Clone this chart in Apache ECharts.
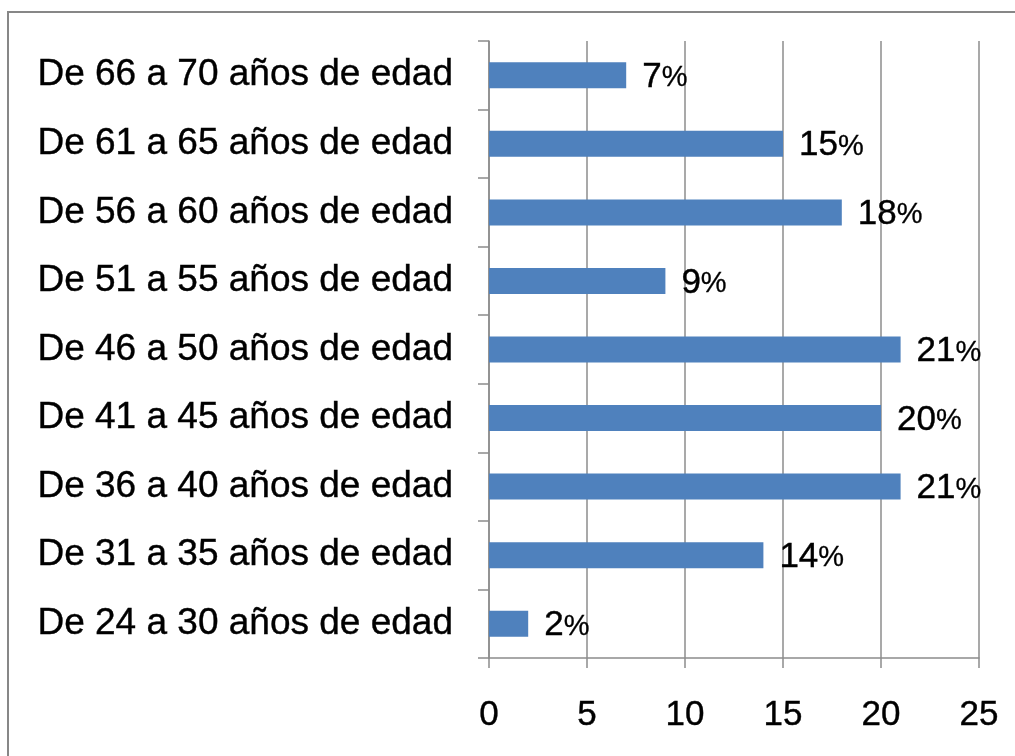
<!DOCTYPE html>
<html>
<head>
<meta charset="utf-8">
<script src="https://cdn.jsdelivr.net/npm/echarts@6/dist/echarts.min.js"></script>
<style>
html,body{margin:0;padding:0;background:#fff;}
#main{width:1015px;height:756px;}
</style>
</head>
<body>
<div id="main"></div>
<script>
const categories = [
  "De 24 a 30 años de edad",
  "De 31 a 35 años de edad",
  "De 36 a 40 años de edad",
  "De 41 a 45 años de edad",
  "De 46 a 50 años de edad",
  "De 51 a 55 años de edad",
  "De 56 a 60 años de edad",
  "De 61 a 65 años de edad",
  "De 66 a 70 años de edad"
];
const values = [2, 14, 21, 20, 21, 9, 18, 15, 7];
const xTicks = [0, 5, 10, 15, 20, 25];

const chart = echarts.init(document.getElementById('main'), null, {renderer: 'canvas'});
const font = 'Liberation Sans, Arial, sans-serif';
chart.setOption({
  animation: false,
  backgroundColor: '#fff',
  graphic: [{
    type: 'rect',
    shape: {x: 8, y: 12, width: 1100, height: 900},
    style: {fill: 'none', stroke: '#878787', lineWidth: 2},
    silent: true
  }],
  grid: {left: 489, right: 36, top: 41, bottom: 98, containLabel: false},
  xAxis: {
    type: 'value',
    min: xTicks[0],
    max: xTicks[xTicks.length - 1],
    interval: 5,
    axisLine: {show: true, lineStyle: {color: '#8c8c8c', width: 1.5}},
    axisTick: {show: true, length: 10, lineStyle: {color: '#8c8c8c', width: 1.5}},
    splitLine: {show: true, lineStyle: {color: '#8c8c8c', width: 1.5}},
    axisLabel: {fontFamily: font, fontSize: 35, color: '#000', margin: 40,
      textBorderColor: '#000', textBorderWidth: 0.4}
  },
  yAxis: {
    type: 'category',
    data: categories,
    axisLine: {show: true, lineStyle: {color: '#8c8c8c', width: 1.5}},
    axisTick: {show: true, length: 11, lineStyle: {color: '#8c8c8c', width: 1.5}},
    axisLabel: {fontFamily: font, fontSize: 37, color: '#000', margin: 36,
      padding: [5, 0, 0, 0],
      textBorderColor: '#000', textBorderWidth: 0.4}
  },
  series: [{
    type: 'bar',
    data: values,
    barWidth: 26,
    itemStyle: {color: '#4F81BD'},
    label: {
      show: true,
      position: 'right',
      distance: 16,
      offset: [0, 2],
      formatter: p => '{n|' + p.value + '}{p|%}',
      rich: {
        n: {fontFamily: font, fontSize: 35, color: '#000', verticalAlign: 'bottom',
          textBorderColor: '#000', textBorderWidth: 0.4},
        p: {fontFamily: font, fontSize: 29, color: '#000', verticalAlign: 'bottom', padding: [0, 0, 2, 0],
          textBorderColor: '#000', textBorderWidth: 0.3}
      }
    }
  }]
});
</script>
</body>
</html>
